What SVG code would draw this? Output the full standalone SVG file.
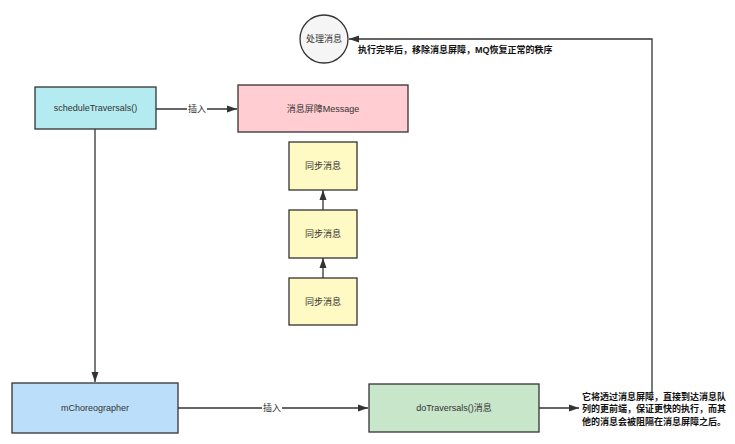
<svg xmlns="http://www.w3.org/2000/svg" width="735" height="444" viewBox="0 0 735 444">
<defs>
<marker id="arr" markerWidth="10" markerHeight="8" refX="10" refY="4" orient="auto" markerUnits="userSpaceOnUse"><path d="M0,0.5 L10,4 L0,7.5 z" fill="#333"/></marker>
<style>
text{font-family:"Liberation Sans","Noto Sans CJK SC",sans-serif;font-size:9px;fill:#333;}
.box{stroke:#333;stroke-width:1.3;}
.c{text-anchor:middle;dominant-baseline:central;}
.ln{fill:none;stroke:#333;stroke-width:1.3;}
.note{fill:#111;font-weight:bold;}
</style>
</defs>
<rect width="735" height="444" fill="#fff"/>
<g id="connectors">
<path class="ln" d="M156,109 H237" marker-end="url(#arr)"/>
<rect x="187" y="103" width="20" height="12" fill="#fff"/>
<text class="c" x="197" y="109">插入</text>
<path class="ln" d="M95,129 V382" marker-end="url(#arr)"/>
<path class="ln" d="M178,408 H368" marker-end="url(#arr)"/>
<rect x="262" y="402" width="20" height="12" fill="#fff"/>
<text class="c" x="272" y="408">插入</text>
<path class="ln" d="M539,408 H579" marker-end="url(#arr)"/>
<path class="ln" d="M652,393 V39 H349" marker-end="url(#arr)"/>
<text class="note" x="358" y="53">执行完毕后，移除消息屏障，MQ恢复正常的秩序</text>
<path class="ln" d="M323,278 V258" marker-end="url(#arr)"/>
<path class="ln" d="M323,210 V190" marker-end="url(#arr)"/>
</g>
<g id="process">
<circle cx="324" cy="39" r="24" fill="#f5f5f5" stroke="#333" stroke-width="1.3"/>
<text class="c" x="324" y="39">处理消息</text>
</g>
<g id="scheduleTraversals">
<rect class="box" x="35" y="87" width="121" height="42" fill="#b3ebf0"/>
<text class="c" x="95.5" y="108">scheduleTraversals()</text>
</g>
<g id="barrier">
<rect class="box" x="238" y="85" width="170" height="47" fill="#ffcdd2"/>
<text class="c" x="323" y="108.5">消息屏障Message</text>
</g>
<g id="sync1">
<rect class="box" x="289" y="142" width="68" height="48" fill="#fff9c4"/>
<text class="c" x="323" y="166">同步消息</text>
</g>
<g id="sync2">
<rect class="box" x="289" y="210" width="68" height="48" fill="#fff9c4"/>
<text class="c" x="323" y="234">同步消息</text>
</g>
<g id="sync3">
<rect class="box" x="289" y="278" width="68" height="47" fill="#fff9c4"/>
<text class="c" x="323" y="301.5">同步消息</text>
</g>
<g id="mChoreographer">
<rect class="box" x="12" y="383" width="166" height="50" fill="#bbdefb"/>
<text class="c" x="95" y="408">mChoreographer</text>
</g>
<g id="doTraversals">
<rect class="box" x="369" y="384" width="170" height="48" fill="#c8e6c9"/>
<text class="c" x="454" y="408">doTraversals()消息</text>
</g>
<g id="note">
<text class="note" x="582" y="399.5">它将透过消息屏障，直接到达消息队</text>
<text class="note" x="582" y="412">列的更前端，保证更快的执行，而其</text>
<text class="note" x="582" y="424.5">他的消息会被阻隔在消息屏障之后。</text>
</g>
</svg>
